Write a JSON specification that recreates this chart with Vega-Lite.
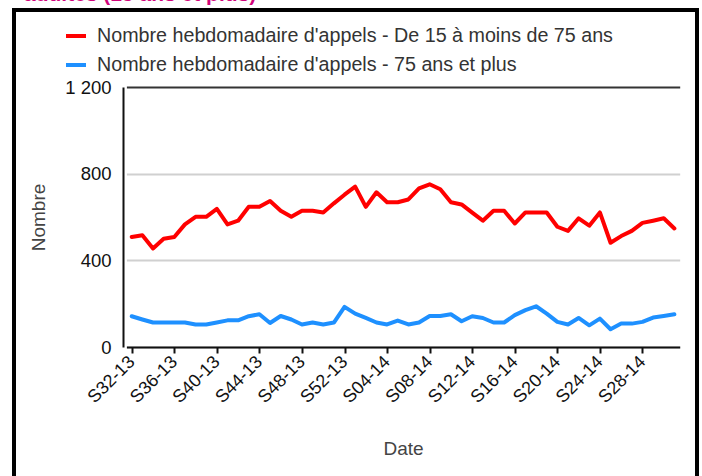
{
  "$schema": "https://vega.github.io/schema/vega-lite/v6.json",
  "autosize": {"type": "none"},
  "width": 563,
  "height": 260,
  "padding": {"left": 123, "top": 87, "right": 16, "bottom": 129},
  "background": "white",
  "config": {
    "font": "Liberation Sans",
    "view": {"stroke": null}
  },
  "title": {
    "text": "adultes (15 ans et plus)",
    "anchor": "start",
    "frame": "group",
    "fontSize": 21,
    "fontWeight": "bold",
    "color": "#d1037b",
    "font": "Liberation Sans",
    "dx": -99,
    "dy": -4,
    "offset": 0
  },
  "data": {
    "values": [
      {"semaine": "S32-13", "a": 508, "b": 142},
      {"semaine": "S33-13", "a": 516, "b": 127},
      {"semaine": "S34-13", "a": 455, "b": 113},
      {"semaine": "S35-13", "a": 500, "b": 113},
      {"semaine": "S36-13", "a": 508, "b": 113},
      {"semaine": "S37-13", "a": 566, "b": 113},
      {"semaine": "S38-13", "a": 601, "b": 104},
      {"semaine": "S39-13", "a": 601, "b": 104},
      {"semaine": "S40-13", "a": 637, "b": 113},
      {"semaine": "S41-13", "a": 566, "b": 123},
      {"semaine": "S42-13", "a": 583, "b": 123},
      {"semaine": "S43-13", "a": 647, "b": 142},
      {"semaine": "S44-13", "a": 647, "b": 151},
      {"semaine": "S45-13", "a": 674, "b": 111},
      {"semaine": "S46-13", "a": 629, "b": 143},
      {"semaine": "S47-13", "a": 601, "b": 127},
      {"semaine": "S48-13", "a": 629, "b": 104},
      {"semaine": "S49-13", "a": 629, "b": 113},
      {"semaine": "S50-13", "a": 621, "b": 104},
      {"semaine": "S51-13", "a": 663, "b": 113},
      {"semaine": "S52-13", "a": 703, "b": 185},
      {"semaine": "S01-14", "a": 740, "b": 154},
      {"semaine": "S02-14", "a": 647, "b": 134},
      {"semaine": "S03-14", "a": 714, "b": 113},
      {"semaine": "S04-14", "a": 668, "b": 104},
      {"semaine": "S05-14", "a": 668, "b": 122},
      {"semaine": "S06-14", "a": 681, "b": 104},
      {"semaine": "S07-14", "a": 732, "b": 113},
      {"semaine": "S08-14", "a": 751, "b": 143},
      {"semaine": "S09-14", "a": 728, "b": 143},
      {"semaine": "S10-14", "a": 668, "b": 151},
      {"semaine": "S11-14", "a": 658, "b": 119},
      {"semaine": "S12-14", "a": 620, "b": 142},
      {"semaine": "S13-14", "a": 583, "b": 134},
      {"semaine": "S14-14", "a": 629, "b": 113},
      {"semaine": "S15-14", "a": 629, "b": 113},
      {"semaine": "S16-14", "a": 570, "b": 147},
      {"semaine": "S17-14", "a": 621, "b": 170},
      {"semaine": "S18-14", "a": 621, "b": 188},
      {"semaine": "S19-14", "a": 621, "b": 154},
      {"semaine": "S20-14", "a": 555, "b": 116},
      {"semaine": "S21-14", "a": 536, "b": 104},
      {"semaine": "S22-14", "a": 594, "b": 134},
      {"semaine": "S23-14", "a": 560, "b": 100},
      {"semaine": "S24-14", "a": 621, "b": 131},
      {"semaine": "S25-14", "a": 481, "b": 82},
      {"semaine": "S26-14", "a": 512, "b": 108},
      {"semaine": "S27-14", "a": 536, "b": 108},
      {"semaine": "S28-14", "a": 573, "b": 116},
      {"semaine": "S29-14", "a": 583, "b": 136},
      {"semaine": "S30-14", "a": 594, "b": 143},
      {"semaine": "S31-14", "a": 547, "b": 151}
    ]
  },
  "layer": [
    {
      "mark": {"type": "rect", "fill": null, "stroke": "black", "strokeWidth": 3, "clip": false},
      "encoding": {
        "x": {"value": -109},
        "x2": {"value": 574},
        "y": {"value": -77},
        "y2": {"value": 420}
      }
    },
    {
      "transform": [{"fold": ["a", "b"], "as": ["serie", "valeur"]}],
      "mark": {"type": "line", "strokeWidth": 4, "strokeJoin": "round", "strokeCap": "round"},
      "encoding": {
        "x": {
          "field": "semaine",
          "type": "ordinal",
          "sort": null,
          "scale": {"type": "point", "range": [3.4, 556.7]},
          "axis": {
            "values": ["S32-13", "S36-13", "S40-13", "S44-13", "S48-13", "S52-13", "S04-14", "S08-14", "S12-14", "S16-14", "S20-14", "S24-14", "S28-14"],
            "title": "Date",
            "titleFontSize": 19,
            "titleColor": "#444",
            "titleFontWeight": "normal",
            "titlePadding": 33,
            "labelAngle": -45,
            "labelAlign": "right",
            "labelBaseline": "middle",
            "labelFontSize": 18,
            "labelColor": "#111",
            "labelPadding": 6,
            "domainColor": "#111",
            "domainWidth": 2,
            "tickColor": "#111",
            "tickWidth": 2,
            "tickSize": 6,
            "grid": false
          }
        },
        "y": {
          "field": "valeur",
          "type": "quantitative",
          "scale": {"domain": [0, 1200], "nice": false},
          "axis": {
            "values": [0, 400, 800, 1200],
            "labelExpr": "datum.value == 1200 ? '1 200' : datum.label",
            "title": "Nombre",
            "titleFontSize": 19,
            "titleColor": "#444",
            "titleFontWeight": "normal",
            "titlePadding": 16,
            "labelFontSize": 18.5,
            "labelColor": "#111",
            "labelPadding": 12,
            "ticks": false,
            "domainColor": "#111",
            "domainWidth": 2,
            "gridWidth": 2,
            "gridColor": {"condition": {"test": "datum.value === 1200", "value": "#333"}, "value": "#d0d0d0"}
          }
        },
        "color": {
          "field": "serie",
          "type": "nominal",
          "scale": {"domain": ["a", "b"], "range": ["#ff0000", "#1e90ff"]},
          "legend": {
            "orient": "none",
            "legendX": -59,
            "legendY": -63,
            "title": null,
            "labelExpr": "datum.value == 'a' ? \"Nombre hebdomadaire d'appels - De 15 à moins de 75 ans\" : \"Nombre hebdomadaire d'appels - 75 ans et plus\"",
            "labelFontSize": 19.7,
            "labelColor": "#333",
            "labelLimit": 0,
            "labelOffset": 9,
            "symbolType": "stroke",
            "symbolStrokeWidth": 4,
            "symbolSize": 400,
            "rowPadding": 7
          }
        }
      }
    }
  ]
}
